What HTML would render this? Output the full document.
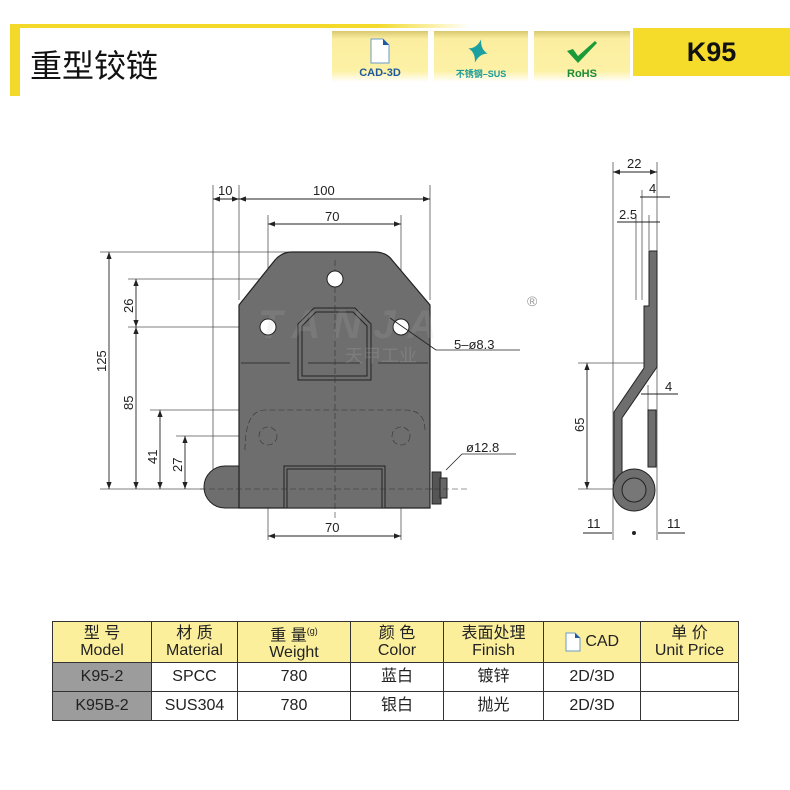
<!DOCTYPE html>
<html><head><meta charset="utf-8"><style>
body{margin:0;background:#fff;width:790px;height:790px;overflow:hidden;position:relative;font-family:"Liberation Sans","Noto Sans CJK SC",sans-serif}
.badge{position:absolute;top:31px;height:51px;background:linear-gradient(#d8c870 0,#fbeea0 8px,#fdf1a6 40px,#fff 51px);text-align:center;font-weight:bold;font-size:11px}
table{position:absolute;left:52px;top:621px;width:686px;table-layout:fixed;border-collapse:collapse;font-family:"Liberation Sans","Noto Sans CJK SC",sans-serif}
td{border:1.5px solid #333;text-align:center;vertical-align:middle;padding:0;font-size:16px;color:#222}
tr.h td{background:#fbef9c;height:40px;line-height:17px;font-size:16px}
tr.d td{height:28px;line-height:28px}
td.g{background:#9c9c9c}
</style></head><body>
<div style="position:absolute;left:10px;top:24px;width:10px;height:72px;background:#f3da2a"></div>
<div style="position:absolute;left:10px;top:24px;width:460px;height:4px;background:linear-gradient(90deg,#f3da2a 80%,#fff)"></div>
<div style="position:absolute;left:30px;top:41px;font-size:32px;color:#111;font-family:'Noto Sans CJK SC',sans-serif">重型铰链</div>
<div class="badge" style="left:332px;width:96px;color:#1f5aa0">
<svg width="20" height="26" style="margin-top:7px"><path d="M1 1H13L19 7V25H1Z" fill="#fff" stroke="#6a9cc8"/><path d="M13 1V7H19Z" fill="#1f5aa0"/></svg><div>CAD-3D</div></div>
<div class="badge" style="left:434px;width:94px;color:#1a9a9a;font-size:9px">
<svg width="30" height="28" style="margin-top:6px"><path d="M12 2Q14 12 22 14Q14 16 12 26Q10 16 2 14Q10 12 12 2Z" fill="#1aa0a0" transform="rotate(15 12 14)"/></svg><div>不锈钢–SUS</div></div>
<div class="badge" style="left:534px;width:96px;color:#1b8a3a">
<svg width="34" height="26" style="margin-top:8px"><path d="M2 12L8 10L13 17L30 2L32 4L13 24Z" fill="#1b9a3a"/></svg><div>RoHS</div></div>
<div style="position:absolute;left:633px;top:28px;width:157px;height:48px;background:#f5dc2a;font-size:27px;font-weight:bold;line-height:48px;text-align:center;color:#111">K95</div>

<svg width="790" height="790" style="position:absolute;left:0;top:0" font-family="Liberation Sans,sans-serif" font-size="13" fill="#222">
<defs><marker id="a" markerWidth="8" markerHeight="6" refX="8" refY="3" orient="auto-start-reverse"><path d="M0 0L8 3L0 6Z" fill="#222"/></marker></defs>
<g stroke="#555" stroke-width="0.8" fill="none">
<line x1="213" y1="185" x2="213" y2="470"/><line x1="239" y1="185" x2="239" y2="300"/><line x1="430" y1="185" x2="430" y2="300"/>
<line x1="268" y1="215" x2="268" y2="540"/><line x1="401" y1="215" x2="401" y2="540"/>
<line x1="100" y1="252" x2="370" y2="252"/><line x1="128" y1="279" x2="330" y2="279"/><line x1="128" y1="327" x2="262" y2="327"/>
<line x1="150" y1="410" x2="260" y2="410"/><line x1="176" y1="436" x2="255" y2="436"/><line x1="100" y1="489" x2="440" y2="489"/>
</g>
<g stroke="#222" stroke-width="0.9" marker-start="url(#a)" marker-end="url(#a)">
<line x1="213" y1="199" x2="239" y2="199"/><line x1="239" y1="199" x2="430" y2="199"/><line x1="268" y1="224" x2="401" y2="224"/>
<line x1="109" y1="252" x2="109" y2="489"/><line x1="136" y1="279" x2="136" y2="327"/><line x1="136" y1="327" x2="136" y2="489"/>
<line x1="160" y1="410" x2="160" y2="489"/><line x1="185" y1="436" x2="185" y2="489"/><line x1="268" y1="536" x2="401" y2="536"/>
</g>
<text x="218" y="195">10</text><text x="313" y="195">100</text><text x="325" y="221">70</text><text x="325" y="532">70</text>
<text transform="translate(106,372) rotate(-90)">125</text><text transform="translate(133,313) rotate(-90)">26</text>
<text transform="translate(133,410) rotate(-90)">85</text><text transform="translate(157,464) rotate(-90)">41</text><text transform="translate(182,472) rotate(-90)">27</text>
<path d="M225 466H239V508H225A21 21 0 0 1 225 466Z" fill="#6e6e6e" stroke="#222"/>
<path d="M239 305L275 260Q282 252 292 252H375Q386 252 392 260L430 305V508H239Z" fill="#6e6e6e" stroke="#222" stroke-width="1.2"/>
<rect x="284" y="466" width="101" height="42" fill="#6e6e6e" stroke="#222"/><rect x="287" y="469" width="95" height="39" fill="none" stroke="#222"/>
<path d="M432 472h9v32h-9z" fill="#555" stroke="#222"/><path d="M440 478h7v20h-7z" fill="#666" stroke="#222"/>
<path d="M298 324L314 308H355L371 324V380H298Z" fill="none" stroke="#222" stroke-width="1"/>
<path d="M302 326L316 312H353L367 326V376H302Z" fill="none" stroke="#222" stroke-width="1"/>
<g stroke="#222" stroke-width="0.8"><line x1="241" y1="363" x2="290" y2="363"/><line x1="308" y1="363" x2="360" y2="363"/><line x1="378" y1="363" x2="428" y2="363"/></g>
<g stroke="#333" stroke-width="0.6" stroke-dasharray="6,3" fill="none">
<line x1="335" y1="260" x2="335" y2="520"/><path d="M245 450Q245 410 265 410H405Q425 410 425 430"/>
<circle cx="268" cy="436" r="9"/><circle cx="401" cy="436" r="9"/><line x1="200" y1="489" x2="470" y2="489"/>
</g>
<circle cx="335" cy="279" r="8" fill="#fff" stroke="#222"/><circle cx="268" cy="327" r="8" fill="#fff" stroke="#222"/><circle cx="401" cy="327" r="8" fill="#fff" stroke="#222"/>
<text x="258" y="338" font-size="40" font-style="italic" font-weight="bold" fill="#bbb" opacity="0.15" letter-spacing="12">TANJA</text>
<text x="345" y="362" font-size="18" fill="#bbb" opacity="0.2" font-family="Noto Sans CJK SC,sans-serif">天甲工业</text>
<text x="527" y="306" font-size="14" fill="#999">®</text>
<line x1="390" y1="318" x2="436" y2="350" stroke="#222" stroke-width="0.8"/><line x1="436" y1="350" x2="520" y2="350" stroke="#222" stroke-width="0.8"/>
<text x="454" y="349">5–ø8.3</text>
<path d="M446 470L462 454H516" fill="none" stroke="#222" stroke-width="0.8"/><text x="466" y="452">ø12.8</text>
<g stroke="#555" stroke-width="0.8">
<line x1="613" y1="162" x2="613" y2="540"/><line x1="657" y1="162" x2="657" y2="540"/><line x1="642" y1="190" x2="642" y2="300"/><line x1="636" y1="215" x2="636" y2="300"/><line x1="649" y1="215" x2="649" y2="250"/>
<line x1="578" y1="363" x2="645" y2="363"/><line x1="578" y1="489" x2="613" y2="489"/><line x1="648" y1="385" x2="648" y2="410"/>
</g>
<g stroke="#222" stroke-width="0.9" marker-start="url(#a)" marker-end="url(#a)">
<line x1="613" y1="172" x2="657" y2="172"/><line x1="587" y1="363" x2="587" y2="489"/>
</g>
<g stroke="#222" stroke-width="0.9"><line x1="640" y1="197" x2="670" y2="197"/><line x1="617" y1="222" x2="660" y2="222"/><line x1="641" y1="394" x2="678" y2="394"/><line x1="583" y1="533" x2="612" y2="533"/><line x1="658" y1="533" x2="685" y2="533"/></g>
<text x="627" y="168">22</text><text x="649" y="193">4</text><text x="619" y="219">2.5</text><text x="665" y="391">4</text><text x="587" y="528">11</text><text x="667" y="528">11</text>
<text transform="translate(584,432) rotate(-90)">65</text>
<circle cx="634" cy="533" r="2" fill="#222"/>
<path d="M649 251H657V367L622 418V482H614V412L644 368V306L649 306Z" fill="#6e6e6e" stroke="#222"/>
<rect x="648" y="410" width="8" height="57" fill="#6e6e6e" stroke="#222"/>
<circle cx="634" cy="490" r="21" fill="#6e6e6e" stroke="#222"/><circle cx="634" cy="490" r="12" fill="#777" stroke="#222"/>
</svg>

<table>
<colgroup><col style="width:99px"><col style="width:86px"><col style="width:113px"><col style="width:93px"><col style="width:100px"><col style="width:97px"><col style="width:98px"></colgroup>
<tr class="h"><td>型 号<br>Model</td><td>材 质<br>Material</td><td>重 量<sup style="font-size:9px">(g)</sup><br>Weight</td><td>颜 色<br>Color</td><td>表面处理<br>Finish</td><td><svg width="16" height="20" style="vertical-align:middle"><path d="M1 1H10L15 6V19H1Z" fill="#fff" stroke="#6a9cc8"/><path d="M10 1V6H15Z" fill="#1f5aa0"/></svg> CAD</td><td>单 价<br>Unit Price</td></tr>
<tr class="d"><td class="g">K95-2</td><td>SPCC</td><td>780</td><td>蓝白</td><td>镀锌</td><td>2D/3D</td><td></td></tr>
<tr class="d"><td class="g">K95B-2</td><td>SUS304</td><td>780</td><td>银白</td><td>抛光</td><td>2D/3D</td><td></td></tr>
</table>
</body></html>
